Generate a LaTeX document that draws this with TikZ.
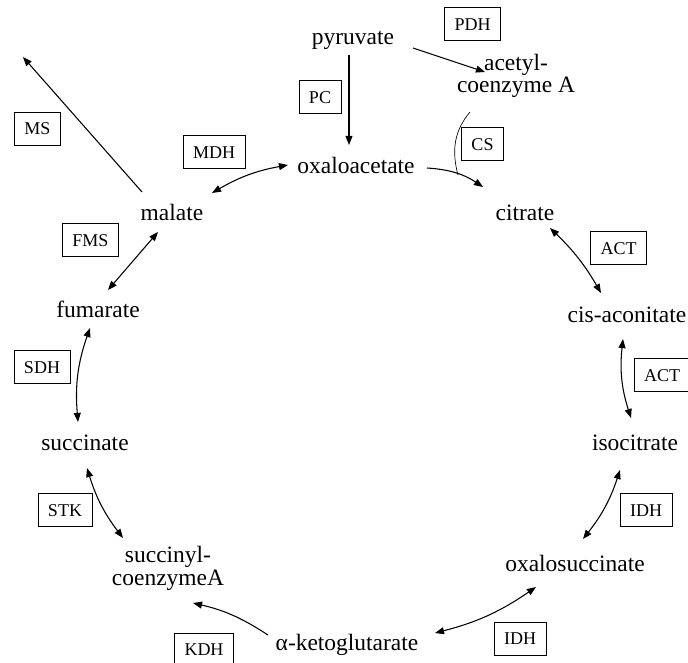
\documentclass[tikz,border=0pt]{standalone}
\usepackage{fontspec}
\setmainfont{Liberation Serif}
\usetikzlibrary{arrows.meta}

\tikzset{
  metab/.style={inner sep=0pt, anchor=base, align=center,
    font=\fontsize{17.6pt}{17.25pt}\selectfont},
  enzyme/.style={draw, line width=0.6pt, inner xsep=7.5pt, inner ysep=0pt,
    minimum height=24.75pt, text height=9.2pt, text depth=0pt,
    font=\fontsize{13.5pt}{16pt}\selectfont},
  flow/.style={line width=0.8pt, -{Triangle[length=6.8pt,width=5.2pt]}},
  both/.style={line width=0.8pt, {Triangle[length=6.8pt,width=5.2pt]}-{Triangle[length=6.8pt,width=5.2pt]}},
  thin/.style={line width=0.5pt}
}

\begin{document}
\begin{tikzpicture}[x=0.75pt, y=0.75pt]
\useasboundingbox (0,0) rectangle (688,662);

% metabolites (two-line names sit on the baseline of their last line)
\node[metab] (pyr)    at (353,617) {pyruvate};
\node[metab] (acet)   at (516,569) {acetyl-\\coenzyme A};
\node[metab] (oxa)    at (356,489) {oxaloacetate};
\node[metab] (cit)    at (525,442) {citrate};
\node[metab] (mal)    at (172,442) {malate};
\node[metab] (fum)    at (98,345)  {fumarate};
\node[metab] (cis)    at (627,340) {cis-aconitate};
\node[metab] (suc)    at (85,212)  {succinate};
\node[metab] (iso)    at (635,212) {isocitrate};
\node[metab] (succoa) at (168,77)  {succinyl-\\coenzymeA};
\node[metab] (oxs)    at (575,91)  {oxalosuccinate};
\node[metab] (akg)    at (347,12)  {α-ketoglutarate};
\coordinate (msend) at (23,605);

% enzymes
\node[enzyme] (pdh)  at (472.5,638) {PDH};
\node[enzyme] (pc)   at (320,565)   {PC};
\node[enzyme] (cs)   at (482.5,518) {CS};
\node[enzyme] (mdh)  at (214,510)   {MDH};
\node[enzyme] (ms)   at (37.5,533.5){MS};
\node[enzyme] (fms)  at (90.5,422)  {FMS};
\node[enzyme] (act1) at (618.5,414) {ACT};
\node[enzyme] (sdh)  at (42,295)    {SDH};
\node[enzyme] (act2) at (662,287)   {ACT};
\node[enzyme] (stk)  at (65,152)    {STK};
\node[enzyme] (idh1) at (646,152)   {IDH};
\node[enzyme] (idh2) at (520,23.5)  {IDH};
\node[enzyme] (kdh)  at (204,12.5)  {KDH};

% reactions
\draw[flow] ([shift={(-4,-10)}]pyr.base) -- ([shift={(-7,28)}]oxa.base);
\draw[flow] ([shift={(60,-3)}]pyr.base) -- ([shift={(-31,21)}]acet.base);
\draw[flow] ([shift={(71,5)}]oxa.base) to[bend left=15] ([shift={(-42,33)}]cit.base);
\draw[thin] ([shift={(-46,-19)}]acet.base) to[out=230,in=105] ([shift={(102,-2)}]oxa.base);
\draw[both] ([shift={(40,27)}]mal.base) to[bend left=10] ([shift={(-68,8)}]oxa.base);
\draw[flow] ([shift={(-30,28)}]mal.base) -- (msend);
\draw[both] ([shift={(-14,-12)}]mal.base) -- ([shift={(10,27)}]fum.base);
\draw[both] ([shift={(-7,28)}]suc.base) to[bend left=12] ([shift={(-8,-11)}]fum.base);
\draw[both] ([shift={(2,-18)}]suc.base) to[bend right=10] ([shift={(-45,47)}]succoa.base);
\draw[flow] ([shift={(-79,15)}]akg.base) to[bend right=10] ([shift={(25,-18)}]succoa.base);
\draw[both] ([shift={(88,17)}]akg.base) to[bend right=10] ([shift={(-39,-16)}]oxs.base);
\draw[both] ([shift={(8,32)}]oxs.base) to[bend right=10] ([shift={(-15,-20)}]iso.base);
\draw[both] ([shift={(-4,32)}]iso.base) to[bend left=12] ([shift={(-4,-17)}]cis.base);
\draw[both] ([shift={(25,-8)}]cit.base) to[bend left=8] ([shift={(-26,29)}]cis.base);
\end{tikzpicture}
\end{document}
